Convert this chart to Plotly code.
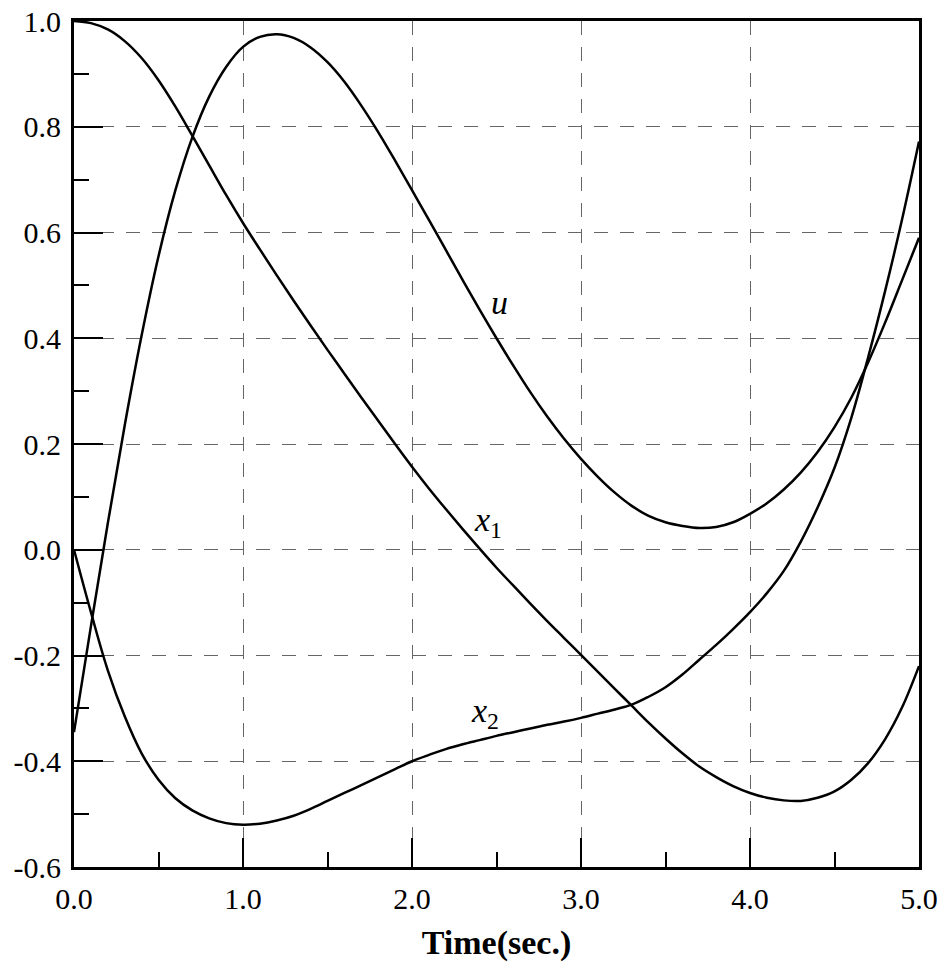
import plotly.graph_objects as go

# ---- data (time in seconds) ----
t = [0.0, 0.1, 0.2, 0.3, 0.4, 0.5, 0.6, 0.7, 0.8, 0.9,
     1.0, 1.1, 1.2, 1.3, 1.4, 1.5, 1.6, 1.7, 1.8, 1.9,
     2.0, 2.1, 2.2, 2.3, 2.4, 2.5, 2.6, 2.7, 2.8, 2.9,
     3.0, 3.1, 3.2, 3.3, 3.4, 3.5, 3.6, 3.7, 3.8, 3.9,
     4.0, 4.1, 4.2, 4.3, 4.4, 4.5, 4.6, 4.7, 4.8, 4.9, 5.0]

u = [-0.345, -0.145, 0.05, 0.235, 0.405, 0.555, 0.68, 0.78, 0.857, 0.913,
     0.951, 0.97, 0.975, 0.968, 0.95, 0.922, 0.885, 0.84, 0.79, 0.736,
     0.68, 0.624, 0.567, 0.51, 0.454, 0.4, 0.348, 0.298, 0.252, 0.21,
     0.172, 0.138, 0.108, 0.083, 0.064, 0.052, 0.045, 0.041, 0.043, 0.052,
     0.068, 0.088, 0.114, 0.146, 0.185, 0.232, 0.288, 0.355, 0.43, 0.51, 0.59]

x1 = [1.0, 0.996, 0.984, 0.962, 0.930, 0.888, 0.838, 0.783, 0.727, 0.671,
      0.618, 0.568, 0.519, 0.471, 0.424, 0.378, 0.333, 0.288, 0.244, 0.2,
      0.157, 0.116, 0.077, 0.039, 0.002, -0.034, -0.068, -0.102, -0.135, -0.167,
      -0.199, -0.231, -0.263, -0.295, -0.327, -0.357, -0.385, -0.41, -0.43, -0.447,
      -0.46, -0.469, -0.474, -0.475, -0.469, -0.457, -0.435, -0.403, -0.358, -0.298, -0.22]

x2 = [0.0, -0.118, -0.228, -0.315, -0.385, -0.435, -0.47, -0.493, -0.508, -0.517,
      -0.52, -0.518, -0.512, -0.503, -0.49, -0.475, -0.46, -0.445, -0.43, -0.415,
      -0.40, -0.388, -0.377, -0.368, -0.36, -0.352, -0.345, -0.338, -0.331, -0.325,
      -0.318, -0.31, -0.302, -0.293, -0.278, -0.26, -0.236, -0.208, -0.18, -0.15,
      -0.118, -0.082, -0.04, 0.015, 0.08, 0.155, 0.25, 0.365, 0.49, 0.625, 0.772]

x_ticks = [0, 1, 2, 3, 4, 5]
x_tick_labels = ["0.0", "1.0", "2.0", "3.0", "4.0", "5.0"]
y_ticks = [-0.6, -0.4, -0.2, 0.0, 0.2, 0.4, 0.6, 0.8, 1.0]
y_tick_labels = ["-0.6", "-0.4", "-0.2", "0.0", "0.2", "0.4", "0.6", "0.8", "1.0"]

label_texts = ["<i>u</i>", "<i>x</i><sub>1</sub>", "<i>x</i><sub>2</sub>"]
label_x = [2.52, 2.45, 2.43]
label_y = [0.468, 0.053, -0.308]

FONT = "Liberation Serif"

fig = go.Figure()
for series in (u, x1, x2):
    fig.add_trace(go.Scatter(x=t, y=series, mode="lines",
                             line=dict(color="black", width=2.5, shape="spline", smoothing=1.0),
                             showlegend=False, hoverinfo="skip"))

for txt, lx, ly in zip(label_texts, label_x, label_y):
    fig.add_annotation(x=lx, y=ly, text=txt, showarrow=False,
                       font=dict(family=FONT, size=34, color="black"))

axis_common = dict(
    showline=True, linecolor="black", linewidth=3, mirror=True,
    ticks="inside", ticklen=29, tickwidth=2, tickcolor="black",
    showgrid=True, gridcolor="#666666", gridwidth=1, griddash="14px,12px",
    zeroline=False, automargin=False, ticklabeloverflow="allow",
    tickfont=dict(family=FONT, size=30, color="black"),
)

fig.update_xaxes(range=[0, 5], tickvals=x_ticks, ticktext=x_tick_labels,
                 minor=dict(dtick=0.5, ticks="inside", ticklen=15, tickwidth=2,
                            tickcolor="black", showgrid=False),
                 ticklabelstandoff=3,
                 title=dict(text="<b>Time(sec.)</b>", standoff=17,
                            font=dict(family=FONT, size=34, color="black")),
                 **axis_common)
fig.update_yaxes(range=[-0.6, 1.0], tickvals=y_ticks, ticktext=y_tick_labels,
                 minor=dict(dtick=0.1, tick0=0, ticks="inside", ticklen=15, tickwidth=2,
                            tickcolor="black", showgrid=False),
                 ticklabelstandoff=4,
                 **axis_common)

fig.update_layout(width=945, height=968,
                  margin=dict(l=74, r=26, t=21, b=101, autoexpand=False),
                  plot_bgcolor="white", paper_bgcolor="white",
                  font=dict(family=FONT, color="black"))

# remove the default 8px page margin so the figure fills the window exactly
fig.write_html("out.html", config={"displayModeBar": False},
               post_script="document.body.style.margin='0';")
